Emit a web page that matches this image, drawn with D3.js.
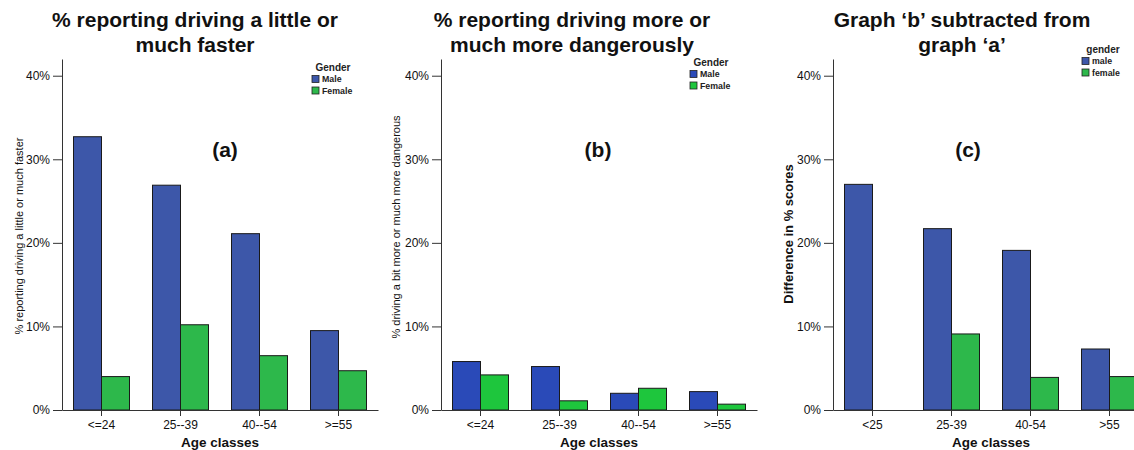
<!DOCTYPE html>
<html>
<head>
<meta charset="utf-8">
<script src="https://cdn.jsdelivr.net/npm/d3@7"></script>
<style>
  body { margin: 0; background: #fff; }
  svg { display: block; font-family: "Liberation Sans", Arial, sans-serif; }
</style>
</head>
<body>
<svg width="1134" height="450"></svg>
<script>
// categories
const ageClassesAB = ['<=24', '25--39', '40--54', '>=55'];
const ageClassesC = ['<25', '25-39', '40-54', '>55'];
const yTicks = [0, 10, 20, 30, 40];

// series values (%)
const fasterMale = [32.7, 26.9, 21.1, 9.5];
const fasterFemale = [4.0, 10.2, 6.5, 4.7];
const dangerMale = [5.8, 5.2, 2.0, 2.2];
const dangerFemale = [4.2, 1.1, 2.6, 0.7];
const diffMale = [27.0, 21.7, 19.1, 7.3];
const diffFemale = [0, 9.1, 3.9, 4.0];

const svg = d3.select('svg');

const baseY = 410;
const topY = 59;

const y = d3.scaleLinear()
    .domain([0, 42])
    .range([baseY, topY]);

function drawPanel(p) {
    const g = svg.append('g');

    const x = d3.scaleBand()
        .domain(p.categories)
        .range([p.x0, p.x0 + 316])
        .padding(0);

    const inner = d3.scaleBand()
        .domain(['male', 'female'])
        .range([-28, 28]);

    // title
    p.title.forEach((line, i) => {
        g.append('text')
            .attr('x', p.titleX)
            .attr('y', 27 + i * 25)
            .attr('text-anchor', 'middle')
            .attr('font-size', 21)
            .attr('font-weight', 'bold')
            .attr('fill', '#111')
            .text(line);
    });

    // bars
    const rows = p.categories.map((c, i) => ({ c, male: p.male[i], female: p.female[i] }));
    const groups = g.selectAll('g.cat')
        .data(rows)
        .join('g')
        .attr('transform', d => `translate(${x(d.c) + x.bandwidth() / 2},0)`);

    groups.selectAll('rect')
        .data(d => [{ k: 'male', v: d.male }, { k: 'female', v: d.female }].filter(e => e.v > 0))
        .join('rect')
        .attr('x', d => inner(d.k))
        .attr('width', inner.bandwidth())
        .attr('y', d => y(d.v))
        .attr('height', d => baseY - y(d.v))
        .attr('fill', d => d.k === 'male' ? p.colors[0] : p.colors[1])
        .attr('stroke', '#1a1a1a')
        .attr('stroke-width', 1);

    // y axis
    const yAxis = g.append('g')
        .attr('transform', `translate(${p.x0},0)`)
        .call(d3.axisLeft(y)
            .tickValues(yTicks)
            .tickFormat(d => d + '%')
            .tickSize(9)
            .tickPadding(3)
            .tickSizeOuter(0));
    yAxis.selectAll('text').attr('font-size', 12).attr('fill', '#111');

    // x axis
    const xAxis = g.append('g')
        .attr('transform', `translate(0,${baseY})`)
        .call(d3.axisBottom(x)
            .tickSize(6)
            .tickPadding(4)
            .tickSizeOuter(0));
    xAxis.selectAll('text').attr('font-size', 12).attr('fill', '#111');

    g.selectAll('.domain, .tick line').attr('stroke', '#333');

    // axis titles
    g.append('text')
        .attr('x', (p.x0 * 2 + 316) / 2)
        .attr('y', 447)
        .attr('text-anchor', 'middle')
        .attr('font-size', 13.5)
        .attr('font-weight', 'bold')
        .attr('fill', '#111')
        .text('Age classes');

    g.append('text')
        .attr('transform', `translate(${p.yTitle.x},${p.yTitle.y}) rotate(-90)`)
        .attr('text-anchor', 'middle')
        .attr('dy', '0.35em')
        .attr('font-size', p.yTitle.size)
        .attr('font-weight', p.yTitle.bold ? 'bold' : 'normal')
        .attr('fill', '#111')
        .text(p.yTitle.text);

    // panel letter
    g.append('text')
        .attr('x', p.letter.x)
        .attr('y', 157)
        .attr('text-anchor', 'middle')
        .attr('font-size', 21)
        .attr('font-weight', 'bold')
        .attr('fill', '#111')
        .text(p.letter.text);

    // legend
    const lg = g.append('g');
    lg.append('text')
        .attr('x', p.legend.x + 21)
        .attr('y', p.legend.y)
        .attr('dy', '0.35em')
        .attr('text-anchor', 'middle')
        .attr('font-size', 10)
        .attr('font-weight', 'bold')
        .attr('fill', '#222')
        .text(p.legend.title);
    p.legend.labels.forEach((lab, i) => {
        const cy = p.legend.y + 12 + i * 11.5;
        lg.append('rect')
            .attr('x', p.legend.x)
            .attr('y', cy - 3.5)
            .attr('width', 7)
            .attr('height', 7)
            .attr('fill', p.colors[i])
            .attr('stroke', '#222')
            .attr('stroke-width', 0.8);
        lg.append('text')
            .attr('x', p.legend.x + 10)
            .attr('y', cy)
            .attr('dy', '0.35em')
            .attr('font-size', 8.8)
            .attr('font-weight', 'bold')
            .attr('fill', '#222')
            .text(lab);
    });
}

drawPanel({
    x0: 62,
    categories: ageClassesAB,
    male: fasterMale,
    female: fasterFemale,
    colors: ['#3d57a9', '#2db84b'],
    title: ['% reporting driving a little or', 'much faster'],
    titleX: 195,
    yTitle: { x: 19, y: 236, size: 11, bold: false, text: '% reporting driving a little or much faster' },
    letter: { x: 225, text: '(a)' },
    legend: { x: 312, y: 67, title: 'Gender', labels: ['Male', 'Female'] }
});

drawPanel({
    x0: 441,
    categories: ageClassesAB,
    male: dangerMale,
    female: dangerFemale,
    colors: ['#2a4ab8', '#1ec63d'],
    title: ['% reporting driving more or', 'much more dangerously'],
    titleX: 572,
    yTitle: { x: 396, y: 227, size: 11, bold: false, text: '% driving a bit more or much more dangerous' },
    letter: { x: 598, text: '(b)' },
    legend: { x: 690, y: 62, title: 'Gender', labels: ['Male', 'Female'] }
});

drawPanel({
    x0: 833,
    categories: ageClassesC,
    male: diffMale,
    female: diffFemale,
    colors: ['#3d57a9', '#2db84b'],
    title: ['Graph \u2018b\u2019 subtracted from', 'graph \u2018a\u2019'],
    titleX: 962,
    yTitle: { x: 788, y: 234, size: 13, bold: true, text: 'Difference in % scores' },
    letter: { x: 968, text: '(c)' },
    legend: { x: 1082, y: 49, title: 'gender', labels: ['male', 'female'] }
});
</script>
</body>
</html>
